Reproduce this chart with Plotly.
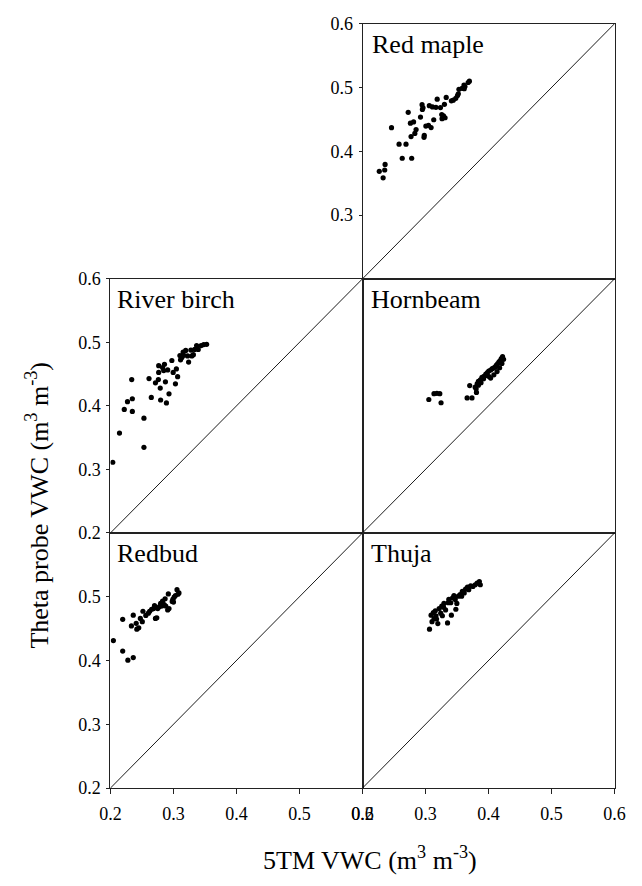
import plotly.graph_objects as go

# Volumetric water content: 5TM sensor (x) vs. Theta probe (y), m3 m-3
red_maple_x = [0.2266, 0.2327, 0.2352, 0.2358, 0.246, 0.258, 0.269, 0.263, 0.278, 0.2725,
               0.276, 0.281, 0.277, 0.283, 0.285, 0.292, 0.2945, 0.296, 0.298, 0.2976,
               0.306, 0.3047, 0.3088, 0.311, 0.313, 0.3165, 0.3185, 0.3237, 0.3257, 0.3262,
               0.33, 0.331, 0.3328, 0.341, 0.344, 0.348, 0.3507, 0.352, 0.353, 0.358,
               0.361, 0.3614, 0.3696, 0.3676, 0.3625, 0.295, 0.3005, 0.3285]
red_maple_y = [0.3685, 0.3583, 0.3706, 0.3793, 0.437, 0.411, 0.411, 0.389, 0.389, 0.461,
               0.444, 0.446, 0.423, 0.428, 0.434, 0.4535, 0.473, 0.468, 0.425, 0.4218,
               0.4714, 0.4407, 0.4371, 0.4694, 0.4494, 0.4689, 0.4817, 0.4684, 0.4576, 0.451,
               0.4735, 0.4525, 0.4843, 0.479, 0.480, 0.483, 0.4873, 0.490, 0.497, 0.4986,
               0.5037, 0.498, 0.5099, 0.5078, 0.5015, 0.4655, 0.4395, 0.4555]

river_birch_x = [0.2036, 0.2143, 0.2219, 0.227, 0.2337, 0.2347, 0.2347, 0.2531, 0.2531, 0.2612,
                 0.2648, 0.2714, 0.276, 0.2765, 0.2765, 0.279, 0.2796, 0.2827, 0.2857, 0.2872,
                 0.2888, 0.2908, 0.2929, 0.2974, 0.2995, 0.3031, 0.3046, 0.3066, 0.3102, 0.3112,
                 0.3133, 0.3163, 0.3194, 0.3224, 0.324, 0.3276, 0.3291, 0.3316, 0.3337, 0.3367,
                 0.3393, 0.3439, 0.348, 0.3526, 0.3153, 0.2845]
river_birch_y = [0.3112, 0.3571, 0.3944, 0.4066, 0.4413, 0.4112, 0.3913, 0.3806, 0.3347, 0.4429,
                 0.4133, 0.4362, 0.4413, 0.4526, 0.4633, 0.428, 0.4092, 0.4602, 0.4653, 0.4378,
                 0.4046, 0.4566, 0.4189, 0.4714, 0.4526, 0.4347, 0.4582, 0.4459, 0.4791, 0.4724,
                 0.476, 0.4796, 0.4872, 0.4786, 0.4689, 0.4878, 0.4786, 0.4806, 0.4888, 0.4949,
                 0.4888, 0.4949, 0.4964, 0.4969, 0.4847, 0.4555]

hornbeam_x = [0.3052, 0.3134, 0.318, 0.3226, 0.3246, 0.366, 0.3737, 0.3808, 0.3701, 0.3788,
              0.3819, 0.3839, 0.387, 0.3895, 0.3931, 0.3957, 0.3982, 0.4003, 0.4033, 0.4059,
              0.4084, 0.411, 0.4125, 0.4146, 0.4166, 0.4186, 0.4202, 0.4222, 0.4033, 0.4084,
              0.4008, 0.3972, 0.3921, 0.388, 0.3839, 0.3803, 0.4135, 0.4176, 0.4212, 0.4238]
hornbeam_y = [0.41, 0.4192, 0.4197, 0.4192, 0.4049, 0.4125, 0.4125, 0.4212, 0.4319, 0.4294,
              0.4345, 0.4386, 0.4411, 0.4447, 0.4467, 0.4498, 0.4524, 0.4549, 0.4564, 0.4585,
              0.46, 0.4616, 0.4641, 0.4667, 0.4692, 0.4713, 0.4743, 0.4774, 0.4437, 0.4488,
              0.4462, 0.4478, 0.4427, 0.4365, 0.4324, 0.4268, 0.4539, 0.46, 0.4667, 0.4733]

redbud_x = [0.2046, 0.2194, 0.2194, 0.2276, 0.2362, 0.2332, 0.2362, 0.2408, 0.2418, 0.2449,
            0.2474, 0.2505, 0.2515, 0.2561, 0.2602, 0.2622, 0.2653, 0.2684, 0.2699, 0.2714,
            0.2735, 0.275, 0.2776, 0.2796, 0.2816, 0.2827, 0.2852, 0.2867, 0.2878, 0.2908,
            0.2929, 0.2918, 0.298, 0.299, 0.301, 0.3031, 0.3056, 0.3071, 0.3087, 0.3]
redbud_y = [0.4312, 0.4645, 0.4148, 0.4005, 0.4046, 0.4542, 0.4711, 0.4583, 0.4491, 0.4512,
            0.466, 0.4609, 0.4772, 0.4706, 0.4742, 0.4772, 0.4803, 0.4813, 0.4859, 0.466,
            0.467, 0.4813, 0.4844, 0.4895, 0.4854, 0.4931, 0.4875, 0.4967, 0.4854, 0.4793,
            0.4813, 0.5043, 0.4926, 0.4957, 0.4992, 0.5018, 0.511, 0.5038, 0.5059, 0.4915]

thuja_x = [0.3063, 0.3103, 0.3088, 0.3124, 0.3165, 0.3155, 0.3195, 0.3216, 0.3241, 0.3257,
           0.3292, 0.3318, 0.3349, 0.3359, 0.3369, 0.34, 0.341, 0.343, 0.3451, 0.3471,
           0.3481, 0.3497, 0.3522, 0.3548, 0.3573, 0.3584, 0.3614, 0.3635, 0.3665, 0.3686,
           0.3716, 0.3752, 0.3788, 0.3819, 0.3854, 0.3869, 0.3175, 0.3267, 0.3135, 0.3285]
thuja_y = [0.4491, 0.4609, 0.4711, 0.4752, 0.4701, 0.4778, 0.4578, 0.4813, 0.4742, 0.4854,
           0.4895, 0.4793, 0.4588, 0.4905, 0.4957, 0.4905, 0.4711, 0.4982, 0.5018, 0.4957,
           0.4803, 0.4895, 0.5008, 0.5033, 0.5008, 0.5084, 0.5059, 0.512, 0.5151, 0.511,
           0.5171, 0.5161, 0.5187, 0.5212, 0.5238, 0.5187, 0.465, 0.4701, 0.4655, 0.4835]

axis_range = [0.2, 0.6]
tick_values = [0.2, 0.3, 0.4, 0.5, 0.6]

W, H = 642, 886
SERIF = "Liberation Serif, Times New Roman, serif"

# panel edges in pixels
col_left = (103, 364)
col_right = (364, 625)
row_top = (14, 275)
row_mid = (275, 535)
row_bot = (535, 796)


def px(x):
    return x / W


def py(y):
    return 1 - y / H


def xdom(c):
    return [px(c[0]), px(c[1])]


def ydom(r):
    return [py(r[1]), py(r[0])]


# (name, x, y, column, row, y tick labels, show x tick labels, label left edge)
panels = [
    ("Red maple", red_maple_x, red_maple_y, col_right, row_top, [0.3, 0.4, 0.5, 0.6], False, 373),
    ("River birch", river_birch_x, river_birch_y, col_left, row_mid, tick_values, False, 109),
    ("Hornbeam", hornbeam_x, hornbeam_y, col_right, row_mid, None, False, 372),
    ("Redbud", redbud_x, redbud_y, col_left, row_bot, [0.2, 0.3, 0.4, 0.5], True, 109),
    ("Thuja", thuja_x, thuja_y, col_right, row_bot, None, True, 372),
]

fig = go.Figure()
layout = dict(
    width=W, height=H,
    margin=dict(l=0, r=0, t=0, b=0),
    paper_bgcolor="white", plot_bgcolor="white",
    showlegend=False,
    font=dict(family=SERIF, color="black", size=18),
)
annotations = []


def axis_style(domain, anchor, ticks, ticklen, standoff):
    style = dict(
        domain=domain, range=axis_range, anchor=anchor,
        showgrid=False, zeroline=False,
        showline=True, linecolor="#222", linewidth=1, mirror=True,
        fixedrange=True,
    )
    if ticks:
        style.update(
            tickvals=ticks, ticktext=[f"{v:.1f}" for v in ticks],
            ticks="outside", ticklen=ticklen, tickcolor="#222",
            ticklabelstandoff=standoff, showticklabels=True,
            tickfont=dict(family=SERIF, size=18, color="black"),
        )
    else:
        style.update(ticks="", showticklabels=False)
    return style


for i, (name, xs, ys, col, row, yticks, show_x, label_x) in enumerate(panels, start=1):
    xa = "x" if i == 1 else f"x{i}"
    ya = "y" if i == 1 else f"y{i}"
    xkey = "xaxis" if i == 1 else f"xaxis{i}"
    ykey = "yaxis" if i == 1 else f"yaxis{i}"

    # 1:1 reference line
    fig.add_trace(go.Scatter(x=axis_range, y=axis_range, mode="lines",
                             line=dict(color="black", width=0.9),
                             xaxis=xa, yaxis=ya, hoverinfo="skip"))
    fig.add_trace(go.Scatter(x=xs, y=ys, mode="markers",
                             marker=dict(color="black", size=5.2),
                             xaxis=xa, yaxis=ya, name=name))

    layout[xkey] = axis_style(xdom(col), ya, tick_values if show_x else None, 5, 4)
    layout[ykey] = axis_style(ydom(row), xa, yticks, 3, 2)

    annotations.append(dict(
        text=name, xref="paper", yref="paper",
        x=px(label_x - 1), y=py(row[0] + 21),
        xanchor="left", yanchor="middle", showarrow=False,
        font=dict(family=SERIF, size=26, color="black"),
    ))

annotations.append(dict(
    text="5TM VWC (m<sup>3</sup> m<sup>-3</sup>)", xref="paper", yref="paper",
    x=px(372), y=py(868), xanchor="center", yanchor="middle", showarrow=False,
    font=dict(family=SERIF, size=26, color="black"),
))
annotations.append(dict(
    text="Theta probe VWC (m<sup>3</sup> m<sup>-3</sup>)", xref="paper", yref="paper",
    x=px(28), y=py(507), xanchor="center", yanchor="middle", textangle=-90,
    showarrow=False, font=dict(family=SERIF, size=26, color="black"),
))

layout["annotations"] = annotations
fig.update_layout(**layout)

# Let the figure sit flush in the page, without the default body margin.
page_css = (
    "document.body.style.margin='0';"
    "document.body.style.overflow='hidden';"
    "document.documentElement.style.overflow='hidden';"
)
fig.write_html("out.html", post_script=page_css)
